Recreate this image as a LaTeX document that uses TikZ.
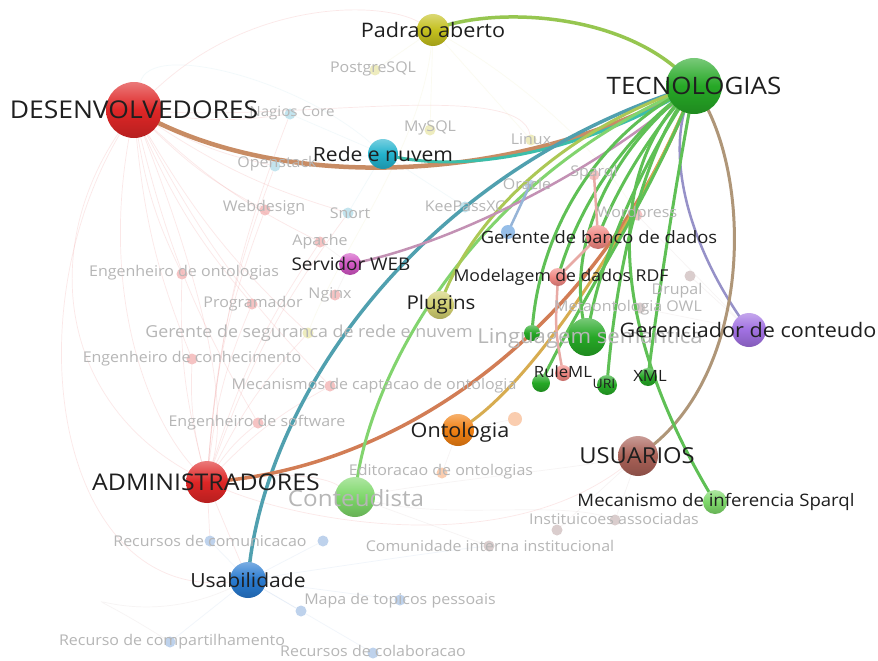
\documentclass[tikz,border=0pt]{standalone}
\usepackage{fontspec}
\setmainfont{Open Sans}[FakeStretch=1.08]
\pgfdeclarelayer{faint}
\pgfdeclarelayer{edges}
\pgfsetlayers{faint,edges,main}
\definecolor{cred}{RGB}{222,38,38}
\definecolor{cgreen}{RGB}{38,168,38}
\definecolor{cyel}{RGB}{196,192,30}
\definecolor{ccyan}{RGB}{35,178,205}
\definecolor{cmag}{RGB}{208,85,195}
\definecolor{csal}{RGB}{240,135,130}
\definecolor{cpale}{RGB}{208,206,112}
\definecolor{cpurp}{RGB}{160,112,225}
\definecolor{corange}{RGB}{240,128,18}
\definecolor{cbrown}{RGB}{168,96,86}
\definecolor{clgreen}{RGB}{125,215,105}
\definecolor{cblue}{RGB}{40,122,208}
\definecolor{cbdot}{RGB}{150,190,232}
\definecolor{codot}{RGB}{250,205,175}
% edge colours
\definecolor{ePT}{RGB}{150,198,80}
\definecolor{eDT}{RGB}{200,140,100}
\definecolor{eRT}{RGB}{60,190,170}
\definecolor{eUT}{RGB}{80,160,175}
\definecolor{eAT}{RGB}{210,125,85}
\definecolor{eCT}{RGB}{130,212,110}
\definecolor{ePlT}{RGB}{172,200,85}
\definecolor{eST}{RGB}{195,145,180}
\definecolor{eOT}{RGB}{215,172,80}
\definecolor{eGT}{RGB}{150,145,200}
\definecolor{eUsT}{RGB}{175,150,120}
\definecolor{egl}{RGB}{95,192,85}
\definecolor{epink}{RGB}{232,170,165}
\definecolor{eblue}{RGB}{150,180,215}
% faded
\definecolor{fpink}{RGB}{245,195,195}
\definecolor{fcyan}{RGB}{195,228,238}
\definecolor{fyel}{RGB}{238,236,190}
\definecolor{fblue}{RGB}{190,210,236}
\definecolor{fgray}{RGB}{218,205,205}
\definecolor{ftext}{RGB}{182,182,182}
\definecolor{lpink}{RGB}{240,150,150}
\tikzset{
  ball/.style={circle,inner sep=0pt,draw=none,top color=#1!62!white,bottom color=#1!82!black,middle color=#1},
  lbl/.style={font=\fontsize{#1}{#1}\selectfont,text=black!88,inner sep=0pt},
  flbl/.style={font=\fontsize{14.8}{14.8}\selectfont,text=ftext,inner sep=0pt},
  fdot/.style={circle,inner sep=0pt,minimum size=11pt,fill=#1},
  edge/.style={line width=#1,line cap=round},
  faintline/.style={draw=#1,opacity=0.22,line width=0.7pt},
}
\begin{document}
\begin{tikzpicture}[x=1pt,y=-1pt]
\useasboundingbox (0,0) rectangle (878,661);

% ---------- faded dots ----------
\begin{pgfonlayer}{faint}
\fill[white] (0,0) rectangle (878,661);
\node[fdot=fyel] (dpostgre) at (375,70) {};
\node[fdot=fcyan] (dnagios) at (290,114) {};
\node[fdot=fyel] (dmysql) at (430,130) {};
\node[fdot=fyel] (dlinux) at (531,140) {};
\node[fdot=fcyan] (dopen) at (275,166) {};
\node[fdot=fblue] (doracle) at (530,185) {};
\node[fdot=fpink] (dsparql) at (594,175) {};
\node[fdot=fpink] (dweb) at (265,210) {};
\node[fdot=fcyan] (dsnort) at (348,213) {};
\node[fdot=fcyan] (dkee) at (465,207) {};
\node[fdot=fpink] (dword) at (637,215) {};
\node[fdot=fpink] (dapache) at (320,242) {};
\node[fdot=fpink] (dengont) at (182,274) {};
\node[fdot=fpink] (dnginx) at (335,295) {};
\node[fdot=fgray] (ddrupal) at (690,276) {};
\node[fdot=fpink] (dprog) at (252,304) {};
\node[fdot=fgray] (dmeta) at (640,308) {};
\node[fdot=fyel] (dgseg) at (308,333) {};
\node[fdot=fpink] (dengcon) at (192,359) {};
\node[fdot=fpink] (dmecc) at (330,386) {};
\node[fdot=fpink] (dengsw) at (258,423) {};
\node[fdot=codot] (dedit) at (442,473) {};
\node[fdot=fgray] (dinst) at (615,520) {};
\node[fdot=fblue] (drcom) at (210,541) {};
\node[fdot=fblue] (dx1) at (323,541) {};
\node[fdot=fgray] (dcomu) at (489,546) {};
\node[fdot=fgray] (dx2) at (557,530) {};
\node[fdot=fblue] (dmapa) at (400,600) {};
\node[fdot=fblue] (dx3) at (301,611) {};
\node[fdot=fblue] (drcomp) at (170,642) {};
\node[fdot=fblue] (drcol) at (373,653) {};
\end{pgfonlayer}

% ---------- main nodes ----------
\node[ball=cyel,minimum size=32pt] (padrao) at (433,30) {};
\node[ball=cgreen,minimum size=56pt] (tec) at (694,86) {};
\node[ball=cred,minimum size=56pt] (desenv) at (134,110) {};
\node[ball=ccyan,minimum size=30pt] (rede) at (383,154) {};
\node[ball=cmag,minimum size=22pt] (serv) at (350,264) {};
\node[ball=csal,minimum size=24pt] (gbd) at (598,237) {};
\node[ball=csal,minimum size=18pt] (mod) at (558,277) {};
\node[ball=cpale,minimum size=28pt] (plug) at (440,305) {};
\node[ball=cgreen,minimum size=16pt] (gone) at (532,333) {};
\node[ball=cgreen,minimum size=38pt] (ling) at (587,337) {};
\node[ball=cpurp,minimum size=34pt] (gcont) at (749,330) {};
\node[ball=cgreen,minimum size=18pt] (rgreen) at (541,383) {};
\node[ball=csal,minimum size=16pt] (rpink) at (563,373) {};
\node[ball=cgreen,minimum size=20pt] (uri) at (607,385) {};
\node[ball=cgreen,minimum size=18pt] (xml) at (648,377) {};
\node[ball=corange,minimum size=32pt] (onto) at (458,430) {};
\node[ball=cbrown,minimum size=40pt] (usu) at (638,456) {};
\node[ball=clgreen,minimum size=24pt] (minf) at (715,502) {};
\node[ball=cred,minimum size=42pt] (admin) at (207,482) {};
\node[ball=clgreen,minimum size=40pt] (cont) at (355,497) {};
\node[ball=cblue,minimum size=36pt] (usab) at (248,580) {};
\node[circle,inner sep=0pt,minimum size=14pt,fill=cbdot] (bdot) at (508,232) {};
\node[circle,inner sep=0pt,minimum size=14pt,fill=codot] (odot) at (515,419) {};

% ---------- faint background connectors ----------
\begin{pgfonlayer}{faint}
\foreach \t in {dweb,dengont,dprog,dengcon,dengsw,dgseg,dmecc,dopen,dnagios,dapache,dsnort}{
  \draw[faintline=lpink] (desenv) to[bend right=8] (\t);
  \draw[faintline=lpink] (admin) to[bend left=8] (\t);
}
\draw[faintline=lpink] (desenv) .. controls (40,250) and (60,400) .. (admin);
\draw[faintline=lpink] (desenv) .. controls (100,300) and (150,420) .. (admin);
\draw[faintline=lpink] (desenv) .. controls (200,280) and (230,400) .. (admin);
\draw[faintline=lpink] (desenv) .. controls (10,320) and (60,600) .. (usab);
\draw[faintline=lpink] (desenv) .. controls (250,0) and (380,0) .. (padrao);
\draw[faintline=lpink] (desenv) .. controls (300,120) and (520,80) .. (dlinux);
\draw[faintline=lpink] (admin) .. controls (300,520) and (500,560) .. (usu);
\draw[faintline=lpink] (admin) .. controls (300,470) and (330,480) .. (cont);
\draw[faintline=lpink] (admin) -- (drcom);
\draw[faintline=lpink] (admin) -- (usab);
\draw[faintline=fyel] (padrao) -- (dmysql);
\draw[faintline=fyel] (padrao) -- (dpostgre);
\draw[faintline=fyel] (padrao) -- (dlinux);
\draw[faintline=fyel] (padrao) .. controls (420,150) and (340,250) .. (dgseg);
\draw[faintline=fyel] (padrao) .. controls (520,80) and (600,150) .. (dword);
\draw[faintline=fblue] (usab) -- (drcom);
\draw[faintline=fblue] (usab) -- (dx1);
\draw[faintline=fblue] (usab) -- (dmapa);
\draw[faintline=fblue] (usab) -- (dx3);
\draw[faintline=fblue] (usab) -- (drcomp);
\draw[faintline=fblue] (usab) -- (drcol);
\draw[faintline=fblue] (usab) .. controls (380,560) and (450,550) .. (dcomu);
\draw[faintline=fgray] (cont) .. controls (450,520) and (560,500) .. (dinst);
\draw[faintline=fgray] (cont) -- (dcomu);
\draw[faintline=fgray] (cont) .. controls (450,480) and (560,470) .. (usu);
\draw[faintline=fgray] (usab) .. controls (120,640) and (40,560) .. (drcomp);
\draw[faintline=fgray] (usu) -- (dinst);
\draw[faintline=fgray] (usu) -- (dx2);
\draw[faintline=fgray] (onto) -- (dedit);
\draw[faintline=fgray] (onto) -- (odot);
\draw[faintline=fcyan] (rede) -- (dopen);
\draw[faintline=fcyan] (rede) -- (dnagios);
\draw[faintline=fcyan] (rede) -- (dsnort);
\draw[faintline=fcyan] (rede) -- (dkee);
\draw[faintline=fcyan] (rede) .. controls (300,80) and (150,40) .. (desenv);
\draw[faintline=fgray] (gcont) -- (ddrupal);
\draw[faintline=fgray] (gcont) -- (dmeta);
\draw[faintline=fgray] (gcont) -- (dword);
\draw[faintline=fgray] (serv) -- (dapache);
\draw[faintline=fgray] (serv) -- (dnginx);
\end{pgfonlayer}

% ---------- coloured connectors ----------
\begin{pgfonlayer}{edges}
\draw[edge=3.5,ePT] (padrao.center) .. controls (490,6) and (630,10) .. (tec.center);
\draw[edge=4.5,eDT] (desenv.center) .. controls (280,195) and (520,185) .. (tec.center);
\draw[edge=3,eRT] (rede.center) .. controls (470,178) and (600,145) .. (tec.center);
\draw[edge=3.5,eUT] (usab.center) .. controls (262,400) and (420,170) .. (tec.center);
\draw[edge=3.5,eAT] (admin.center) .. controls (400,470) and (600,330) .. (tec.center);
\draw[edge=3,eCT] (cont.center) .. controls (365,380) and (470,180) .. (tec.center);
\draw[edge=3,ePlT] (plug.center) .. controls (470,220) and (560,130) .. (tec.center);
\draw[edge=2.5,eST] (serv.center) .. controls (450,245) and (600,170) .. (tec.center);
\draw[edge=3,eOT] (onto.center) .. controls (530,390) and (640,220) .. (tec.center);
\draw[edge=2.5,eGT] (gcont.center) .. controls (690,250) and (660,150) .. (tec.center);
\draw[edge=3,eUsT] (usu.center) .. controls (755,380) and (755,170) .. (tec.center);
\draw[edge=3,egl] (minf.center) .. controls (610,330) and (600,170) .. (tec.center);
\draw[edge=3,egl] (gone.center) .. controls (538,230) and (600,130) .. (tec.center);
\draw[edge=3,egl] (ling.center) .. controls (600,250) and (650,150) .. (tec.center);
\draw[edge=3,egl] (ling.center) .. controls (560,240) and (620,140) .. (tec.center);
\draw[edge=3,egl] (uri.center) .. controls (615,280) and (640,150) .. (tec.center);
\draw[edge=3,egl] (xml.center) .. controls (660,280) and (680,160) .. (tec.center);
\draw[edge=3,egl] (gbd.center) .. controls (620,180) and (660,120) .. (tec.center);
\draw[edge=3,egl] (mod.center) .. controls (580,200) and (630,130) .. (tec.center);
\draw[edge=3,egl] (rgreen.center) .. controls (580,300) and (650,200) .. (tec.center);
\draw[edge=2.5,epink] (rpink.center) .. controls (555,330) .. (mod.center);
\draw[edge=2.5,epink] (mod.center) -- (gbd.center);
\draw[edge=2.5,epink] (gbd.center) -- (dsparql.center);
\draw[edge=2.5,eblue] (bdot.center) -- (doracle.center);
\end{pgfonlayer}

% ---------- faded labels ----------
\node[flbl] (lpostgre) at (373,69) {PostgreSQL};
\node[flbl,font=\fontsize{14}{14}\selectfont] (lnagios) at (292,113) {Nagios Core};
\node[flbl] (lmysql) at (430,128) {MySQL};
\node[flbl] (llinux) at (531,139) {Linux};
\node[flbl] (lopen) at (277,164) {Openstack};
\node[flbl] (loracle) at (527,184) {Oracle};
\node[flbl] (lsparql) at (594,173) {Sparql};
\node[flbl] (lweb) at (264,208) {Webdesign};
\node[flbl] (lsnort) at (350,213) {Snort};
\node[flbl] (lkee) at (465,206) {KeePassXC};
\node[flbl] (lword) at (637,214) {Wordpress};
\node[flbl] (lapache) at (320,242) {Apache};
\node[flbl] (lengont) at (184,273) {Engenheiro de ontologias};
\node[flbl] (lnginx) at (330,295) {Nginx};
\node[flbl] (ldrupal) at (677,291) {Drupal};
\node[flbl] (lprog) at (253,304) {Programador};
\node[flbl] (lmeta) at (628,308) {Metaontologia OWL};
\node[flbl,font=\fontsize{16.5}{16.5}\selectfont] (lgseg) at (309,333) {Gerente de seguranca de rede e nuvem};
\node[flbl] (lengcon) at (192,359) {Engenheiro de conhecimento};
\node[flbl] (lmecc) at (374,386) {Mecanismos de captacao de ontologia};
\node[flbl] (lengsw) at (257,423) {Engenheiro de software};
\node[flbl] (ledit) at (441,472) {Editoracao de ontologias};
\node[flbl] (linst) at (614,519) {Instituicoes associadas};
\node[flbl] (lrcom) at (210,541) {Recursos de comunicacao};
\node[flbl] (lcomu) at (490,546) {Comunidade interna institucional};
\node[flbl] (lmapa) at (400,601) {Mapa de topicos pessoais};
\node[flbl] (lrcomp) at (172,642) {Recurso de compartilhamento};
\node[flbl] (lrcol) at (373,651) {Recursos de colaboracao};
\node[flbl,font=\fontsize{20.5}{20.5}\selectfont] (lling) at (590,338) {Linguagem semantica};
\node[flbl,font=\fontsize{22.4}{22.4}\selectfont] (lcont) at (356,498) {Conteudista};

% ---------- main labels ----------
\node[lbl=20] at (433,30) {Padrao aberto};
\node[lbl=24] at (694,86) {TECNOLOGIAS};
\node[lbl=24.5] at (134,110) {DESENVOLVEDORES};
\node[lbl=19.5] at (383,154) {Rede e nuvem};
\node[lbl=17.5] at (351,264) {Servidor WEB};
\node[lbl=17] at (599,237) {Gerente de banco de dados};
\node[lbl=16.3] at (561,277) {Modelagem de dados RDF};
\node[lbl=19] at (441,305) {Plugins};
\node[lbl=20] at (748,330) {Gerenciador de conteudo};
\node[lbl=15.5] at (563,372) {RuleML};
\node[lbl=13] at (604,384) {URI};
\node[lbl=15.5] at (650,376) {XML};
\node[lbl=20] at (460,432) {Ontologia};
\node[lbl=22] at (637,456) {USUARIOS};
\node[lbl=17.2] at (716,502) {Mecanismo de inferencia Sparql};
\node[lbl=23] at (206,482) {ADMINISTRADORES};
\node[lbl=19.5] at (248,580) {Usabilidade};
\end{tikzpicture}
\end{document}
